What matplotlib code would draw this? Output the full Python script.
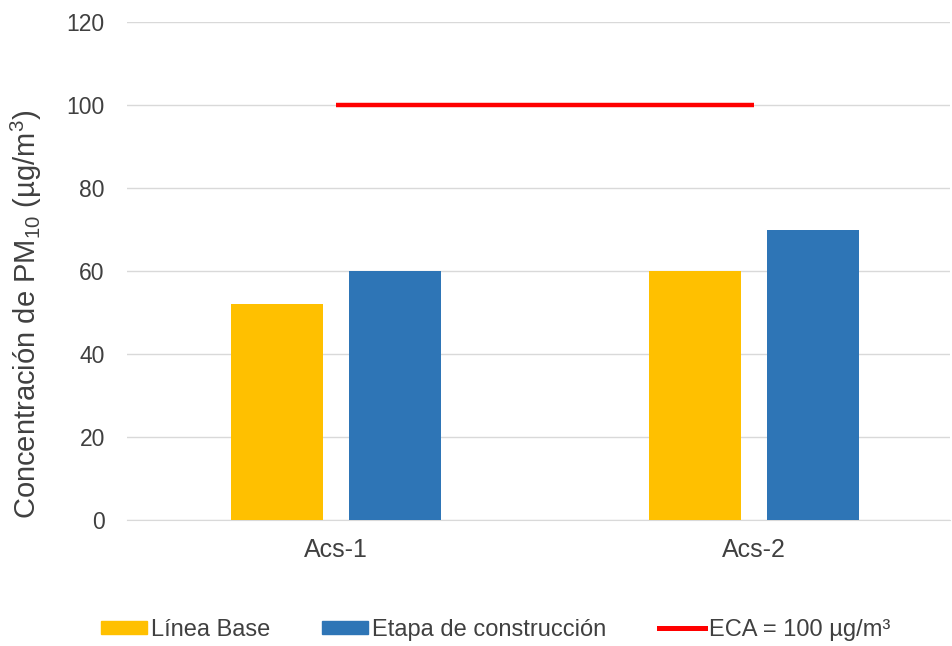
import matplotlib
matplotlib.use("Agg")
import matplotlib.pyplot as plt
import numpy as np
from matplotlib.patches import Patch
from matplotlib.lines import Line2D

plt.rcParams['font.family'] = ['Liberation Sans', 'DejaVu Sans']
plt.rcParams['mathtext.fontset'] = 'custom'
plt.rcParams['mathtext.rm'] = 'Liberation Sans'

# datos de concentracion PM10 por estacion
estaciones = ["Acs-1", "Acs-2"]
linea_base = [52, 60]
etapa_construccion = [60, 70]
eca = 100
yticks = [0, 20, 40, 60, 80, 100, 120]

c_base = "#FFC000"
c_const = "#2E75B6"
c_eca = "#FF0000"
c_txt = "#404040"

fig = plt.figure(figsize=(9.53, 6.46), dpi=100)
ax = fig.add_axes([127/953, 1-520/646, (950-127)/953, (520-22)/646])

x = np.arange(len(estaciones))
w = 0.22
ax.bar(x - 0.141, linea_base, w, color=c_base, zorder=3)
ax.bar(x + 0.141, etapa_construccion, w, color=c_const, zorder=3)
ax.plot(x, [eca]*len(x), color=c_eca, lw=3.2, solid_capstyle='butt', zorder=4)

ax.set_xlim(-0.5, 1.469)
ax.set_ylim(0, 120)
ax.set_yticks(yticks)
ax.set_xticks(x)
ax.set_xticklabels(estaciones, fontsize=18, color=c_txt)
ax.tick_params(axis='y', length=0, labelsize=16.5, labelcolor=c_txt, pad=16)
ax.tick_params(axis='x', length=0, pad=13)
ax.grid(axis='y', color="#d9d9d9", lw=1, zorder=0)
for s in ['top', 'right', 'left']:
    ax.spines[s].set_visible(False)
ax.spines['bottom'].set_color("#d9d9d9")

fig.text(26/953, 1-314/646, r"Concentración de PM$_{10}$ (µg/m$^{3}$)",
         rotation=90, ha='center', va='center', fontsize=21, color=c_txt)

handles = [Patch(color=c_base), Patch(color=c_const),
           Line2D([0], [0], color=c_eca, lw=3.6)]
labels = ["Línea Base", "Etapa de construcción", "ECA = 100 µg/m³"]
fig.legend(handles, labels, loc='center', bbox_to_anchor=(0.52, 1-630/646),
           ncol=3, frameon=False, fontsize=17, handlelength=1.95,
           handleheight=0.5, handletextpad=0.17, columnspacing=2.2,
           labelcolor=c_txt)

fig.savefig("out.png", dpi=100)
